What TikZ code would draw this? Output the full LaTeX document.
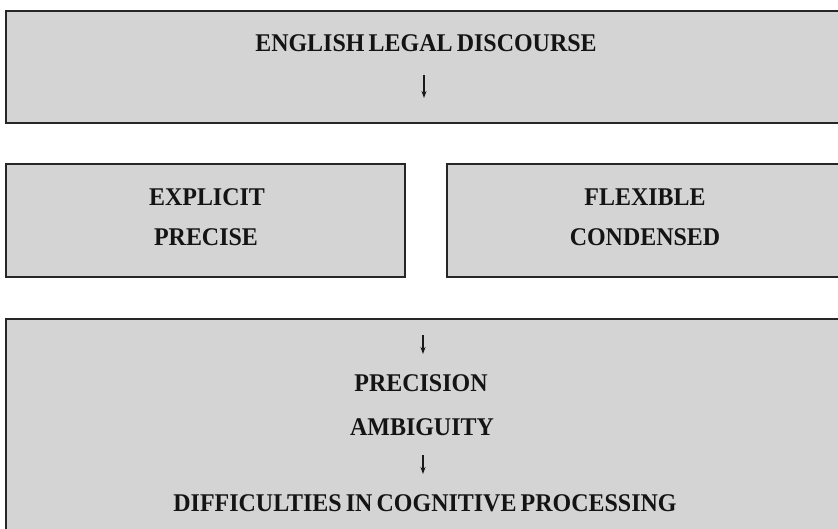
\documentclass[tikz,border=0pt]{standalone}
\usepackage{fontspec}
\setmainfont{Liberation Serif}[FakeStretch=0.94, WordSpace=0.7]
\usetikzlibrary{arrows.meta}
\begin{document}
\begin{tikzpicture}[x=1pt,y=-1pt,
  panel/.style={draw=black!85, line width=1.6pt, fill=black!17, inner sep=0pt, anchor=north west},
  lbl/.style={font=\fontsize{25.5}{28}\selectfont\bfseries, text=black!92, inner sep=0pt},
  arr/.style={draw=black!90, line width=1.2pt, -{Stealth[length=7pt,width=5pt]}}]
\useasboundingbox (0,0) rectangle (838,528);
\clip (0,0) rectangle (838,528);
\fill[white] (0,0) rectangle (838,528);
% panels
\node[panel, minimum width=840pt, minimum height=112pt] (top) at (5,10) {};
\node[panel, minimum width=399pt, minimum height=113pt] (left) at (5,163) {};
\node[panel, minimum width=400pt, minimum height=113pt] (right) at (446,163) {};
\node[panel, minimum width=840pt, minimum height=222pt] (bottom) at (5,318) {};
% labels
\node[lbl] (eld) at (426,43) {ENGLISH LEGAL DISCOURSE};
\node[lbl] (explicit) at (207,197) {EXPLICIT};
\node[lbl] (precise) at (206,237) {PRECISE};
\node[lbl] (flexible) at (645,197) {FLEXIBLE};
\node[lbl] (condensed) at (645,237) {CONDENSED};
\node[lbl] (precision) at (421,383) {PRECISION};
\node[lbl] (ambiguity) at (422,427) {AMBIGUITY};
\node[lbl] (diff) at (425,503) {DIFFICULTIES IN COGNITIVE PROCESSING};
% arrows
\coordinate (a1s) at (424,75);
\coordinate (a1e) at (424,98);
\coordinate (a2s) at (423,335);
\coordinate (a2e) at (423,354);
\coordinate (a3s) at (423,455);
\coordinate (a3e) at (423,474);
\draw[arr] (a1s) -- (a1e);
\draw[arr] (a2s) -- (a2e);
\draw[arr] (a3s) -- (a3e);
\end{tikzpicture}
\end{document}
